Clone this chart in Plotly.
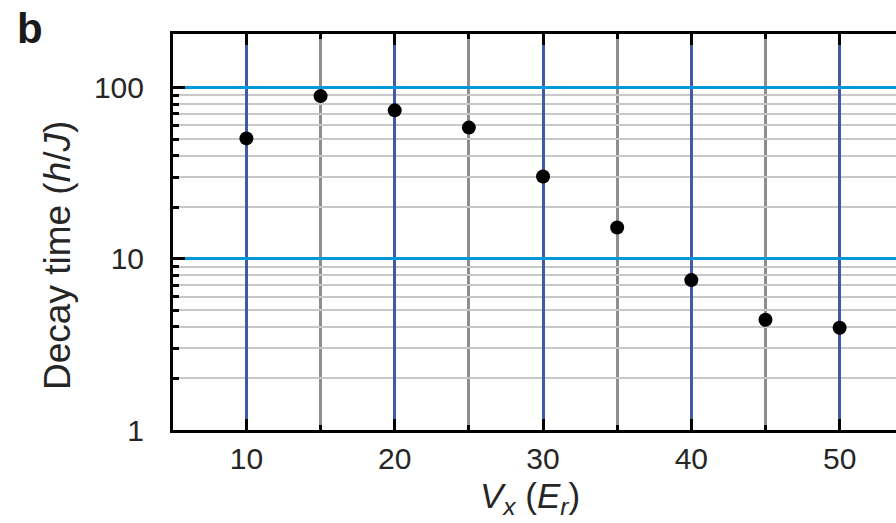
import plotly.graph_objects as go

# Data
v_x = [10, 15, 20, 25, 30, 35, 40, 45, 50]
decay_time = [50.4, 89, 73.5, 58.3, 30.2, 15.2, 7.5, 4.4, 3.95]

x_tickvals = [10, 20, 30, 40, 50]
y_tickvals = [1, 10, 100]
y_ticktext = ["1", "10", "100"]

FONT = "Liberation Sans, Arial, Helvetica, sans-serif"
TXT = "#262626"

fig = go.Figure()
fig.add_trace(go.Scatter(
    x=v_x, y=decay_time, mode="markers",
    marker=dict(color="black", size=14, line=dict(width=0)),
    showlegend=False, cliponaxis=False,
))

W, H = 896, 523
L, R, T, B = 173, 0, 34, 93
pw = W - L - R
ph = H - T - B

fig.update_layout(
    width=W, height=H,
    margin=dict(l=L, r=R, t=T, b=B),
    paper_bgcolor="white", plot_bgcolor="white",
    font=dict(family=FONT, color=TXT, size=30),
)

fig.update_xaxes(
    type="linear", range=[5.05, 53.8],
    tickmode="array", tickvals=x_tickvals,
    ticks="inside", ticklen=11, tickwidth=3, tickcolor="black",
    showline=True, linecolor="black", linewidth=3, mirror="ticks",
    showgrid=True, gridcolor="#3f5aa6", gridwidth=2.5,
    zeroline=False,
    tickfont=dict(size=30, family=FONT, color=TXT),
    ticklabelstandoff=0,
    minor=dict(tick0=5, dtick=10, showgrid=True, gridcolor="#8e8e8e",
               gridwidth=2.5, ticks="inside", ticklen=5, tickwidth=3,
               tickcolor="black"),
)

fig.update_yaxes(
    type="log", range=[0, 2.312],
    tickmode="array", tickvals=y_tickvals, ticktext=y_ticktext,
    ticks="inside", ticklen=12, tickwidth=3, tickcolor="black",
    showline=True, linecolor="black", linewidth=3, mirror=False,
    showgrid=True, gridcolor="#0098d8", gridwidth=3,
    zeroline=False,
    tickfont=dict(size=30, family=FONT, color=TXT),
    ticklabelstandoff=20,
    minor=dict(tickvals=[2, 3, 4, 5, 6, 7, 8, 9, 20, 30, 40, 50, 60, 70, 80, 90],
               showgrid=True, gridcolor="#c8c8c8", gridwidth=2,
               ticks="inside", ticklen=6, tickwidth=3, tickcolor="black"),
)

def px_x(x):
    return (x - L) / pw

def px_y(y):
    return (H - B - y) / ph

fig.add_annotation(
    text="Decay time (<i>h</i>/<i>J</i>)", textangle=-90,
    xref="paper", yref="paper", x=px_x(58), y=px_y(256),
    xanchor="center", yanchor="middle", showarrow=False,
    font=dict(size=37, family=FONT, color=TXT),
)
fig.add_annotation(
    text="<i>V</i><sub><i>x</i></sub> (<i>E</i><sub><i>r</i></sub>)",
    xref="paper", yref="paper", x=px_x(530), y=px_y(498),
    xanchor="center", yanchor="middle", showarrow=False,
    font=dict(size=35, family=FONT, color=TXT),
)
fig.add_annotation(
    text="<b>b</b>",
    xref="paper", yref="paper", x=px_x(15), y=px_y(3),
    xanchor="left", yanchor="top", showarrow=False,
    font=dict(size=42, family=FONT, color="#1a1a1a"),
)

fig.write_html("out.html")
